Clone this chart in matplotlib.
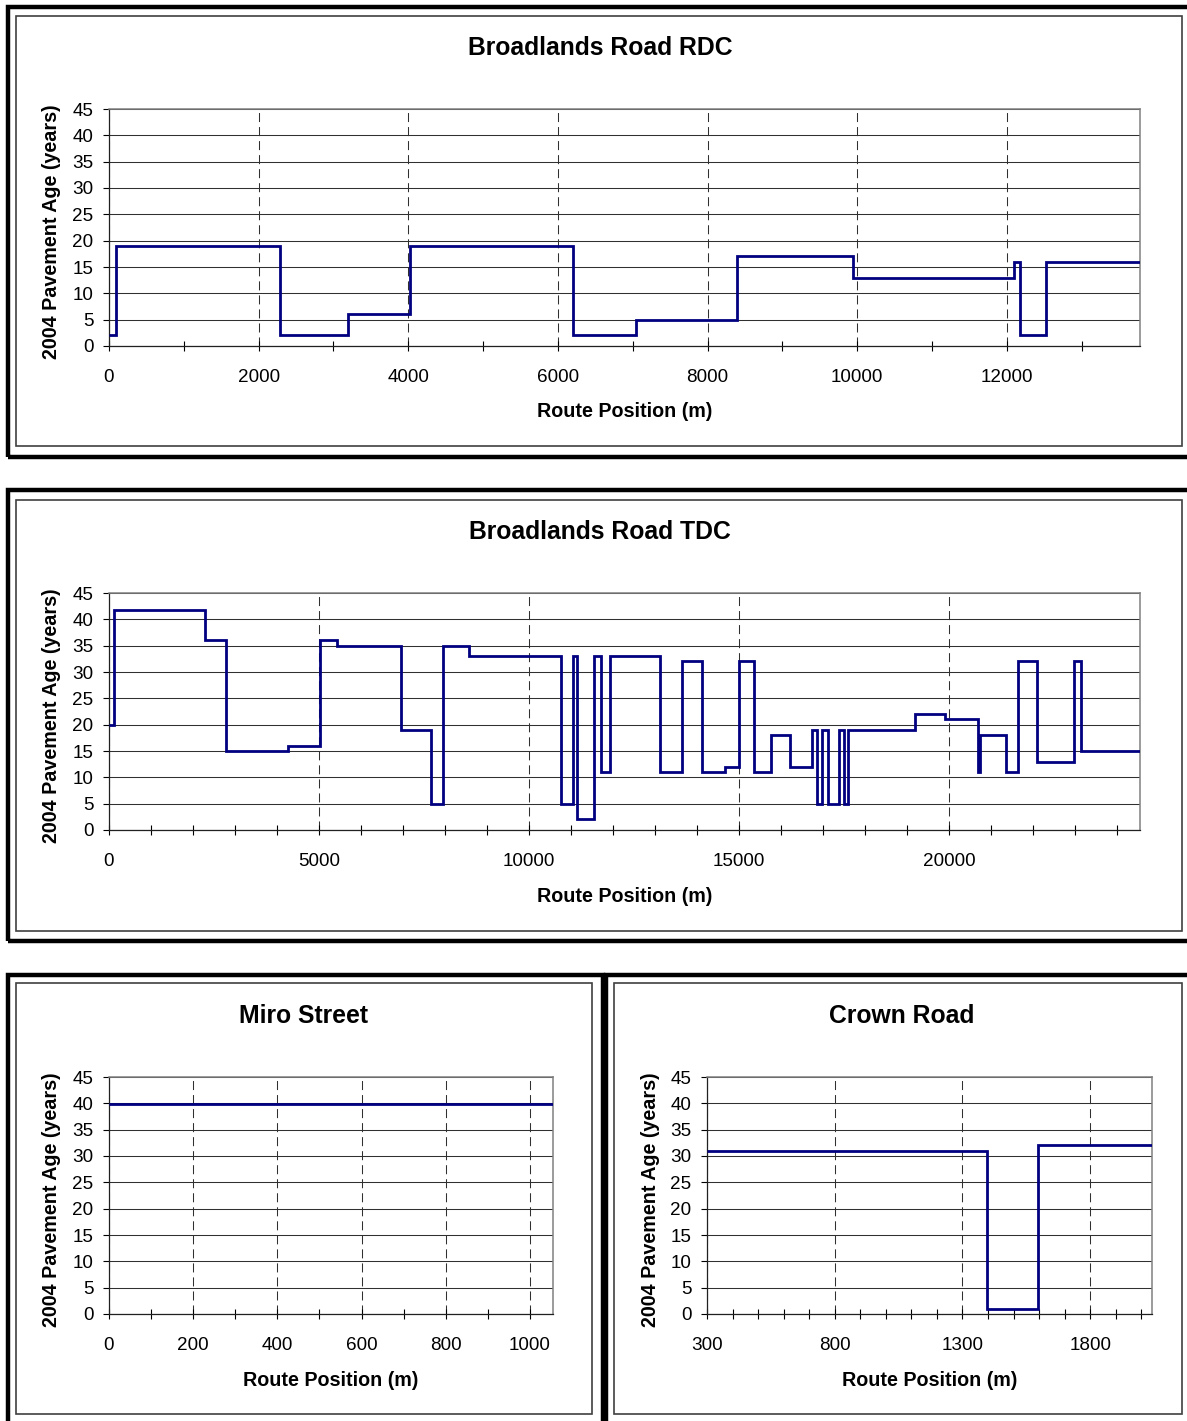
import matplotlib
matplotlib.use("Agg")
import matplotlib.pyplot as plt
from matplotlib.patches import Rectangle
from matplotlib.ticker import MultipleLocator, FixedLocator

plt.rcParams['font.family'] = ['Liberation Sans', 'DejaVu Sans']
plt.rcParams['lines.scale_dashes'] = False

W, H = 1187, 1421

# pavement age steps: edges along the route (m) and the age on each section
rdc_edges = [0, 90, 2280, 3200, 4020, 6200, 7050, 8400, 9950, 12100, 12180, 12520, 13780]
rdc_ages = [2, 19, 2, 6, 19, 2, 5, 17, 13, 16, 2, 16]

tdc_edges = [0, 120, 2280, 2780, 4270, 5020, 5430, 6960, 7670, 7960, 8570,
             10770, 11060, 11155, 11560, 11720, 11930, 13120, 13650, 14130,
             14670, 15000, 15360, 15770, 16210, 16750, 16855, 16975, 17120,
             17390, 17500, 17600, 19200, 19910, 20700, 20730, 21350, 21650,
             22090, 22980, 23145, 24550]
tdc_ages = [20, 41.7, 36, 15, 16, 36, 35, 19, 5, 35, 33,
            5, 33, 2, 33, 11, 33, 11, 32, 11,
            12, 32, 11, 18, 12, 19, 5, 19, 5,
            19, 5, 19, 22, 21, 11, 18, 11, 32,
            13, 32, 15]

miro_edges = [0, 1055]
miro_ages = [39.8]

crown_edges = [300, 1396, 1597, 2042]
crown_ages = [31, 1, 32]

fig = plt.figure(figsize=(W / 100, H / 100), dpi=100)


def px_rect(x0, y0, x1, y1, lw, color):
    fig.add_artist(Rectangle((x0 / W, 1 - y1 / H), (x1 - x0) / W, (y1 - y0) / H,
                             transform=fig.transFigure, fill=False,
                             lw=lw, ec=color, clip_on=False))


def px_axes(left, top, right, bottom):
    return fig.add_axes([left / W, 1 - bottom / H, (right - left) / W, (bottom - top) / H])


# thick outer boxes
px_rect(8, 7, 1200, 457, 3.2, 'black')
px_rect(8, 490, 1200, 941, 3.2, 'black')
px_rect(8, 974.5, 603, 1440, 3.2, 'black')
px_rect(606, 974.5, 1200, 1440, 3.2, 'black')
# thin inner chart areas
px_rect(16, 16, 1182, 446, 1.2, '#404040')
px_rect(16, 500, 1182, 931, 1.2, '#404040')
px_rect(16, 983, 592, 1414, 1.2, '#404040')
px_rect(614, 983, 1182, 1414, 1.2, '#404040')


def chart(box, edges, ages, xlim, major, minor, title, cx):
    left, top, right, bottom = box
    ax = px_axes(left, top, right, bottom)
    ax.stairs(ages, edges, baseline=None, color='#000080', lw=2.0, zorder=3)
    ax.set_xlim(*xlim)
    ax.set_ylim(0, 45)
    ax.set_yticks(range(0, 46, 5))
    ax.xaxis.set_major_locator(FixedLocator(major))
    ax.xaxis.set_minor_locator(MultipleLocator(minor))
    ax.grid(axis='y', color='#303030', lw=0.75, linestyle='-')
    ax.grid(axis='x', which='major', color='#303030', lw=0.75, linestyle=(0, (6.5, 3.6)))
    ax.set_axisbelow(True)
    for s in ['top', 'right']:
        ax.spines[s].set_color('#808080')
        ax.spines[s].set_linewidth(1.1)
    for s in ['left', 'bottom']:
        ax.spines[s].set_color('#202020')
        ax.spines[s].set_linewidth(0.9)
    ax.tick_params(axis='x', which='both', direction='inout', length=6.5, width=0.8,
                   labelsize=13.6, pad=13)
    ax.tick_params(axis='y', which='major', direction='out', length=4.3, width=0.8,
                   labelsize=13.6, pad=7)
    ax.tick_params(axis='y', which='minor', left=False)
    fig.text(cx / W, 1 - (top - 61) / H, title, ha='center', va='center',
             fontsize=17.8, fontweight='bold')
    fig.text((left + right) / 2 / W, 1 - (bottom + 66) / H, 'Route Position (m)',
             ha='center', va='center', fontsize=14.2, fontweight='bold')
    fig.text((left - 57) / W, 1 - ((top + bottom) / 2 + 4) / H, '2004 Pavement Age (years)',
             ha='center', va='center', rotation=90, fontsize=14.2, fontweight='bold')
    return ax


chart((109, 109, 1140, 346), rdc_edges, rdc_ages, (0, 13780),
      range(0, 13000, 2000), 1000, 'Broadlands Road RDC', 600)
chart((109, 593, 1140, 830), tdc_edges, tdc_ages, (0, 24550),
      range(0, 24000, 5000), 1000, 'Broadlands Road TDC', 600)
chart((109, 1077, 553, 1314), miro_edges, miro_ages, (0, 1055),
      range(0, 1001, 200), 100, 'Miro Street', 304)
chart((707, 1077, 1152, 1314), crown_edges, crown_ages, (300, 2042),
      range(300, 2000, 500), 100, 'Crown Road', 902)

fig.savefig('out.png', dpi=100)
